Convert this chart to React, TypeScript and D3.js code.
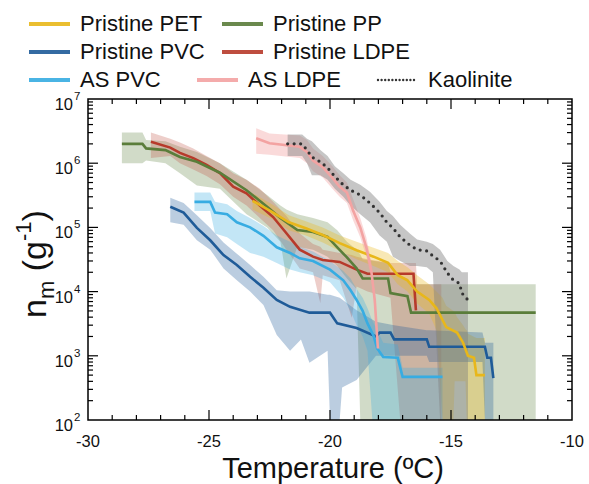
import React from 'react';
import * as d3 from 'd3';

const W = 589;
const H = 484;

const X_DOMAIN = [-30, -10];
const Y_DOMAIN = [1e2, 1e7];
const X_TICK_LABELS = [-30, -25, -20, -15, -10];
const Y_DECADES = [2, 3, 4, 5, 6, 7];

// ---- Pristine PET ----
const PET_T = [-23.2, -22.4, -21.7, -21.0, -20.3, -19.6, -18.9, -18.2, -17.6, -17.2, -16.8, -16.4, -15.9, -15.6, -15.2, -14.75, -14.5, -14.3, -14.05, -13.95, -13.6];
const PET_N = [2.6e5, 1.75e5, 1.2e5, 9.7e4, 7.6e4, 5.7e4, 4.4e4, 3.5e4, 2.8e4, 1.8e4, 1.5e4, 1.0e4, 7.4e3, 5.5e3, 2.8e3, 2.3e3, 1.6e3, 1.0e3, 9.3e2, 5.0e2, 5.0e2];
const PET_BT = [-23.2, -22.4, -21.7, -21.0, -20.3, -19.6, -18.9, -18.2, -17.6, -17.2, -16.8, -16.4, -15.9, -15.6, -15.35, -15.2, -14.9, -14.85, -14.75, -14.5, -14.4, -14.35, -14.3, -13.95, -13.6];
const PET_HI = [3.4e5, 2.3e5, 1.55e5, 1.25e5, 1.0e5, 7.5e4, 6e4, 4.8e4, 4e4, 3e4, 2.4e4, 1.8e4, 1.3e4, 1.0e4, 8e3, 6e3, 5e3, 4.8e3, 4e3, 3e3, 2.6e3, 2.5e3, 2.2e3, 1.9e3, 1.9e3];
const PET_LO = [1.9e5, 1.35e5, 9e4, 7.5e4, 5.8e4, 4.3e4, 3.2e4, 2.5e4, 2e4, 1.3e4, 1.0e4, 6.5e3, 4.5e3, 2.5e3, 100, 100, 100, 4e2, 4e2, 4e2, 4e2, 100, 100, 100, 100];

// ---- Pristine PP ----
const PP_T = [-28.6, -27.75, -27.6, -26.8, -26.2, -25.5, -24.55, -23.45, -22.6, -22.05, -21.35, -20.7, -20.1, -19.7, -19.3, -18.9, -18.65, -17.6, -17.5, -16.8, -16.65, -11.5];
const PP_N = [2.0e6, 2.0e6, 1.7e6, 1.6e6, 1.25e6, 1.05e6, 7.1e5, 3.8e5, 2.1e5, 1.4e5, 9.1e4, 8.5e4, 7.1e4, 4.9e4, 3.4e4, 2.3e4, 1.6e4, 1.6e4, 9.5e3, 8.5e3, 4.7e3, 4.7e3];
const PP_BT = [-28.6, -27.75, -27.6, -26.8, -26.2, -25.5, -24.55, -23.45, -22.6, -22.05, -21.8, -21.35, -20.7, -20.1, -19.7, -19.3, -18.9, -18.75, -18.65, -17.6, -17.5, -16.8, -16.65, -11.5];
const PP_HI = [3.0e6, 3.0e6, 2.3e6, 2.2e6, 1.8e6, 1.5e6, 1.0e6, 5.5e5, 3.2e5, 2.2e5, 1.9e5, 1.6e5, 1.4e5, 1.2e5, 9e4, 6e4, 4.5e4, 3.8e4, 3.2e4, 2.8e4, 2.0e4, 1.6e4, 1.3e4, 1.3e4];
const PP_LO = [1.0e6, 1.0e6, 1.1e6, 1.0e6, 7e5, 4.5e5, 4.0e5, 1.6e5, 1.0e5, 6e4, 1.6e4, 5e4, 4.5e4, 3.5e4, 2.5e4, 1.6e4, 1.1e4, 100, 100, 100, 100, 100, 100, 100];

// ---- Pristine PVC ----
const PVC_T = [-26.6, -26.05, -25.5, -24.95, -24.4, -23.85, -23.3, -22.75, -22.2, -21.65, -20.85, -20.0, -19.7, -18.9, -18.1, -17.95, -17.5, -17.35, -16.0, -15.9, -13.6, -13.5, -13.35, -13.25];
const PVC_N = [2.1e5, 1.7e5, 9.8e4, 6.3e4, 3.7e4, 2.6e4, 1.7e4, 1.15e4, 7.4e3, 5.8e3, 4.7e3, 4.7e3, 3.2e3, 2.7e3, 2.0e3, 2.3e3, 2.3e3, 1.8e3, 1.8e3, 1.38e3, 1.38e3, 9.3e2, 9.3e2, 4.5e2];
const PVC_BT = [-26.6, -26.05, -25.5, -24.95, -24.4, -23.85, -23.3, -22.75, -22.2, -21.65, -21.2, -20.85, -20.1, -20.0, -19.6, -19.5, -18.9, -18.1, -17.35, -16.0, -15.9, -13.7, -13.6, -13.25];
const PVC_HI = [2.9e5, 2.4e5, 1.55e5, 9.8e4, 5.8e4, 3.9e4, 2.6e4, 1.7e4, 1.05e4, 1e4, 1e4, 1e4, 8.9e3, 8.9e3, 8e3, 7.5e3, 5.1e3, 3.4e3, 3e3, 2.5e3, 2.5e3, 2.3e3, 1.6e3, 1.6e3];
const PVC_LO = [1.2e5, 1.1e5, 6.3e4, 4.5e4, 2.3e4, 1.5e4, 1e4, 6.2e3, 2.1e3, 1.2e3, 1.8e3, 7.8e2, 1.2e3, 100, 100, 3.2e2, 4.2e2, 1.0e3, 1.0e3, 1.0e3, 8e2, 8e2, 100, 100];

// ---- Pristine LDPE ----
const LDPE_T = [-27.4, -26.6, -26.2, -25.65, -25.1, -24.55, -24.0, -23.45, -22.9, -22.35, -21.8, -21.25, -20.7, -20.3, -19.6, -18.9, -18.45, -16.55, -16.45];
const LDPE_N = [2.15e6, 1.75e6, 1.45e6, 1.2e6, 9.4e5, 7.0e5, 4.3e5, 3.4e5, 2.2e5, 1.45e5, 8.1e4, 4.5e4, 3.5e4, 3.1e4, 2.9e4, 2.2e4, 1.9e4, 1.9e4, 5.1e3];
const LDPE_BT = [-27.4, -26.6, -26.2, -25.65, -25.1, -24.55, -24.0, -23.45, -22.9, -22.35, -21.8, -21.25, -20.7, -20.4, -20.3, -19.6, -19.1, -18.9, -18.45, -17.5, -17.1, -16.45, -16.4, -15.4];
const LDPE_HI = [3.0e6, 2.4e6, 2.1e6, 1.7e6, 1.3e6, 1.0e6, 7e5, 5.5e5, 4e5, 2.5e5, 1.5e5, 8e4, 5.5e4, 5e4, 4.5e4, 4e4, 3.7e4, 3.5e4, 3.2e4, 2.8e4, 2.8e4, 2.8e4, 1.3e4, 1.3e4];
const LDPE_LO = [1.2e6, 1.3e6, 1.0e6, 8e5, 6.3e5, 4.7e5, 3e5, 2.2e5, 1.4e5, 9e4, 4.5e4, 2.3e4, 2.0e4, 6.6e3, 1.8e4, 1.5e4, 3.9e3, 1.2e4, 1.0e4, 8e3, 100, 100, 100, 100];

// ---- AS PVC ----
const ASPVC_T = [-25.6, -24.95, -24.75, -24.25, -23.85, -23.3, -22.75, -22.2, -21.65, -21.25, -20.7, -20.0, -19.45, -19.15, -18.9, -18.65, -18.45, -18.2, -18.05, -17.8, -17.2, -17.0, -15.35];
const ASPVC_N = [2.5e5, 2.5e5, 1.7e5, 1.6e5, 1.2e5, 1.0e5, 7.4e4, 4.9e4, 4.0e4, 3.3e4, 3.0e4, 2.2e4, 1.5e4, 1.05e4, 7.4e3, 5.0e3, 3.2e3, 2.05e3, 1.3e3, 9.6e2, 9.3e2, 4.7e2, 4.7e2];
const ASPVC_BT = [-25.6, -24.95, -24.75, -24.25, -23.85, -23.3, -22.75, -22.2, -21.65, -21.25, -20.7, -20.0, -19.45, -19.15, -18.9, -18.65, -18.45, -18.25, -18.05, -17.8, -17.2, -17.0, -15.35];
const ASPVC_HI = [3.5e5, 3.5e5, 2.5e5, 2.3e5, 1.8e5, 1.4e5, 1.05e5, 7.5e4, 6e4, 5e4, 4.2e4, 3e4, 2.1e4, 1.6e4, 1.1e4, 8e3, 5.5e3, 3.5e3, 2.5e3, 1.6e3, 1.5e3, 6.5e2, 6.5e2];
const ASPVC_LO = [1.8e5, 1.8e5, 8e4, 7e4, 5.5e4, 4e4, 3.5e4, 2.8e4, 2.2e4, 2e4, 1.8e4, 1.4e4, 8e3, 5e3, 3e3, 2e3, 1.2e3, 100, 100, 100, 100, 100, 100];

// ---- AS LDPE ----
const ASLDPE_T = [-23.05, -22.5, -21.25, -20.95, -20.7, -20.3, -19.9, -19.6, -19.3, -19.05, -18.75, -18.5, -18.3, -18.15, -18.07, -18.02];
const ASLDPE_N = [2.45e6, 2.05e6, 1.8e6, 1.5e6, 1.1e6, 8.7e5, 5.9e5, 4.3e5, 3.5e5, 1.85e5, 1.0e5, 4.9e4, 2.2e4, 7.4e3, 2.5e3, 1.3e3];
const ASLDPE_HI = [3.5e6, 2.9e6, 2.7e6, 2.3e6, 1.7e6, 1.3e6, 9e5, 6.5e5, 5e5, 2.8e5, 1.4e5, 7e4, 3e4, 1e4, 3.5e3, 1.8e3];
const ASLDPE_LO = [1.4e6, 1.35e6, 1.2e6, 1.0e6, 7.5e5, 6e5, 4e5, 3e5, 2.4e5, 1.3e5, 7e4, 3.5e4, 1.6e4, 5e3, 1.8e3, 1e3];

// ---- Kaolinite ----
const KAO_T = [-21.75, -21.15, -20.95, -20.75, -20.4, -20.1, -19.8, -19.45, -19.15, -18.75, -18.35, -17.95, -17.65, -17.4, -17.1, -16.7, -16.4, -16.0, -15.75, -15.45, -15.15, -14.9, -14.65, -14.55, -14.3];
const KAO_N = [2.0e6, 2.0e6, 1.6e6, 1.25e6, 1.05e6, 8.5e5, 6.2e5, 4.6e5, 3.8e5, 3.2e5, 2.4e5, 1.7e5, 1.2e5, 9.8e4, 7.1e4, 5.3e4, 4.5e4, 4.3e4, 3.6e4, 3.0e4, 1.95e4, 1.5e4, 1.35e4, 9.5e3, 7.4e3];
const KAO_HI = [2.8e6, 2.8e6, 2.4e6, 2.2e6, 1.6e6, 1.3e6, 9e5, 7e5, 5.5e5, 4.6e5, 3.6e5, 2.5e5, 1.8e5, 1.5e5, 1.1e5, 8e4, 6.5e4, 6e4, 5.5e4, 4.5e4, 3e4, 2.5e4, 2.2e4, 2e4, 2e4];
const KAO_LO = [1.3e6, 1.3e6, 1.0e6, 6.5e5, 6.5e5, 5.5e5, 4e5, 3e5, 2.2e5, 1.6e5, 1.2e5, 7.5e4, 6e4, 3.5e4, 3.0e4, 2.5e4, 2.5e4, 2.4e4, 2e4, 100, 100, 100, 100, 100, 100];

type Series = {
  name: string;
  color: string;
  band: string;
  bandOpacity: number;
  t: number[];
  n: number[];
  bt: number[];
  lo: number[];
  hi: number[];
  dotted?: boolean;
};

const SERIES: Record<string, Series> = {
  pet: { name: 'Pristine PET', color: '#e8b71a', band: '#e8b71a', bandOpacity: 0.32, t: PET_T, n: PET_N, bt: PET_BT, lo: PET_LO, hi: PET_HI },
  pp: { name: 'Pristine PP', color: '#5a7d3a', band: '#5a7d3a', bandOpacity: 0.28, t: PP_T, n: PP_N, bt: PP_BT, lo: PP_LO, hi: PP_HI },
  pvc: { name: 'Pristine PVC', color: '#1f5b98', band: '#1f5b98', bandOpacity: 0.3, t: PVC_T, n: PVC_N, bt: PVC_BT, lo: PVC_LO, hi: PVC_HI },
  ldpe: { name: 'Pristine LDPE', color: '#b73a2b', band: '#c0503f', bandOpacity: 0.28, t: LDPE_T, n: LDPE_N, bt: LDPE_BT, lo: LDPE_LO, hi: LDPE_HI },
  aspvc: { name: 'AS PVC', color: '#37ace2', band: '#37ace2', bandOpacity: 0.3, t: ASPVC_T, n: ASPVC_N, bt: ASPVC_BT, lo: ASPVC_LO, hi: ASPVC_HI },
  asldpe: { name: 'AS LDPE', color: '#f3a3a2', band: '#f3a3a2', bandOpacity: 0.4, t: ASLDPE_T, n: ASLDPE_N, bt: ASLDPE_T, lo: ASLDPE_LO, hi: ASLDPE_HI },
  kao: { name: 'Kaolinite', color: '#333333', band: '#808080', bandOpacity: 0.45, t: KAO_T, n: KAO_N, bt: KAO_T, lo: KAO_LO, hi: KAO_HI, dotted: true },
};

const BAND_ORDER = ['pp', 'ldpe', 'pet', 'pvc', 'aspvc', 'asldpe', 'kao'];
const LINE_ORDER = ['pvc', 'ldpe', 'pp', 'pet', 'aspvc', 'asldpe', 'kao'];

const LEGEND = [
  { key: 'pet', x: 29, y: 24 },
  { key: 'pp', x: 222, y: 24 },
  { key: 'pvc', x: 29, y: 52 },
  { key: 'ldpe', x: 222, y: 52 },
  { key: 'aspvc', x: 29, y: 80 },
  { key: 'asldpe', x: 197, y: 80 },
  { key: 'kao', x: 377, y: 80 },
];

const FONT = '"Liberation Sans", Arial, Helvetica, sans-serif';

export default function App() {
  const L = 88, R = 572, T = 99, B = 420;
  const x = d3.scaleLinear().domain(X_DOMAIN).range([L, R]);
  const y = d3.scaleLog().domain(Y_DOMAIN).range([B, T]);

  const mkLine = (s: Series) =>
    d3.line<[number, number]>().x(d => x(d[0])).y(d => y(d[1]))(s.t.map((t, i) => [t, s.n[i]] as [number, number])) || '';
  const mkArea = (s: Series) =>
    d3.area<[number, number, number]>().x(d => x(d[0])).y0(d => y(d[1])).y1(d => y(d[2]))(
      s.bt.map((t, i) => [t, s.lo[i], s.hi[i]] as [number, number, number])
    ) || '';

  const xMinor = d3.range(-29, -10, 1).filter(v => v % 5 !== 0);
  const xMajor = [-25, -20, -15];
  const yMinor: number[] = [];
  for (let d = 2; d < 7; d++) for (let k = 2; k <= 9; k++) yMinor.push(k * Math.pow(10, d));
  const yMajor = [1e3, 1e4, 1e5, 1e6];

  return (
    <svg width={W} height={H} style={{ position: 'absolute', left: 0, top: 0, background: '#fff' }} fontFamily={FONT}>
      <defs>
        <clipPath id="plotclip">
          <rect x={L} y={T} width={R - L} height={B - T} />
        </clipPath>
      </defs>
      <rect x={0} y={0} width={W} height={H} fill="#fff" />

      {/* legend */}
      {LEGEND.map(item => {
        const s = SERIES[item.key];
        return (
          <g key={item.key}>
            {s.dotted ? (
              <line x1={item.x + 1} x2={item.x + 39} y1={item.y} y2={item.y} stroke="#333" strokeWidth={2.4} strokeDasharray="0 3.6" strokeLinecap="round" />
            ) : (
              <line x1={item.x} x2={item.x + 41} y1={item.y} y2={item.y} stroke={s.color} strokeWidth={3.8} opacity={0.9} />
            )}
            <text x={item.x + 51} y={item.y + 7} fontSize={22} fill="#111">{s.name}</text>
          </g>
        );
      })}

      {/* bands and lines */}
      <g clipPath="url(#plotclip)">
        {BAND_ORDER.map(k => {
          const s = SERIES[k];
          return <path key={'b' + k} d={mkArea(s)} fill={s.band} fillOpacity={s.bandOpacity} stroke="none" />;
        })}
        {LINE_ORDER.map(k => {
          const s = SERIES[k];
          return s.dotted ? (
            <path key={'l' + k} d={mkLine(s)} fill="none" stroke={s.color} strokeWidth={3.2} strokeDasharray="0 6.5" strokeLinecap="round" />
          ) : (
            <path key={'l' + k} d={mkLine(s)} fill="none" stroke={s.color} strokeWidth={2.6} strokeLinejoin="miter" />
          );
        })}
      </g>

      {/* ticks */}
      <g stroke="#000" strokeWidth={1.2}>
        {xMinor.map(v => (
          <g key={'xm' + v}>
            <line x1={x(v)} x2={x(v)} y1={B} y2={B - 5} />
            <line x1={x(v)} x2={x(v)} y1={T} y2={T + 5} />
          </g>
        ))}
        {xMajor.map(v => (
          <g key={'xM' + v}>
            <line x1={x(v)} x2={x(v)} y1={B} y2={B - 10} />
            <line x1={x(v)} x2={x(v)} y1={T} y2={T + 10} />
          </g>
        ))}
        {yMinor.map(v => (
          <g key={'ym' + v}>
            <line x1={L} x2={L + 5} y1={y(v)} y2={y(v)} />
            <line x1={R} x2={R - 5} y1={y(v)} y2={y(v)} />
          </g>
        ))}
        {yMajor.map(v => (
          <g key={'yM' + v}>
            <line x1={L} x2={L + 10} y1={y(v)} y2={y(v)} />
            <line x1={R} x2={R - 10} y1={y(v)} y2={y(v)} />
          </g>
        ))}
      </g>
      <rect x={L} y={T} width={R - L} height={B - T} fill="none" stroke="#000" strokeWidth={1.5} />

      {/* x tick labels */}
      {X_TICK_LABELS.map(v => (
        <text key={'xl' + v} x={x(v)} y={B + 27} fontSize={16.5} textAnchor="middle" fill="#111">{v}</text>
      ))}
      {/* y tick labels */}
      {Y_DECADES.map(d => (
        <g key={'yl' + d}>
          <text x={73} y={y(Math.pow(10, d)) + 11} fontSize={16.5} textAnchor="end" fill="#111">10</text>
          <text x={74} y={y(Math.pow(10, d)) + 1} fontSize={11.5} textAnchor="start" fill="#111">{d}</text>
        </g>
      ))}

      {/* axis titles */}
      <text x={333} y={478} fontSize={29} textAnchor="middle" fill="#111">Temperature (ºC)</text>
      <text transform="translate(46,264) rotate(-90)" fontSize={34} textAnchor="middle" fill="#111">
        n<tspan fontSize={22} dy={8}>m</tspan><tspan dy={-8}> (g</tspan><tspan fontSize={22} dy={-15}>-1</tspan><tspan dy={15}>)</tspan>
      </text>
    </svg>
  );
}
